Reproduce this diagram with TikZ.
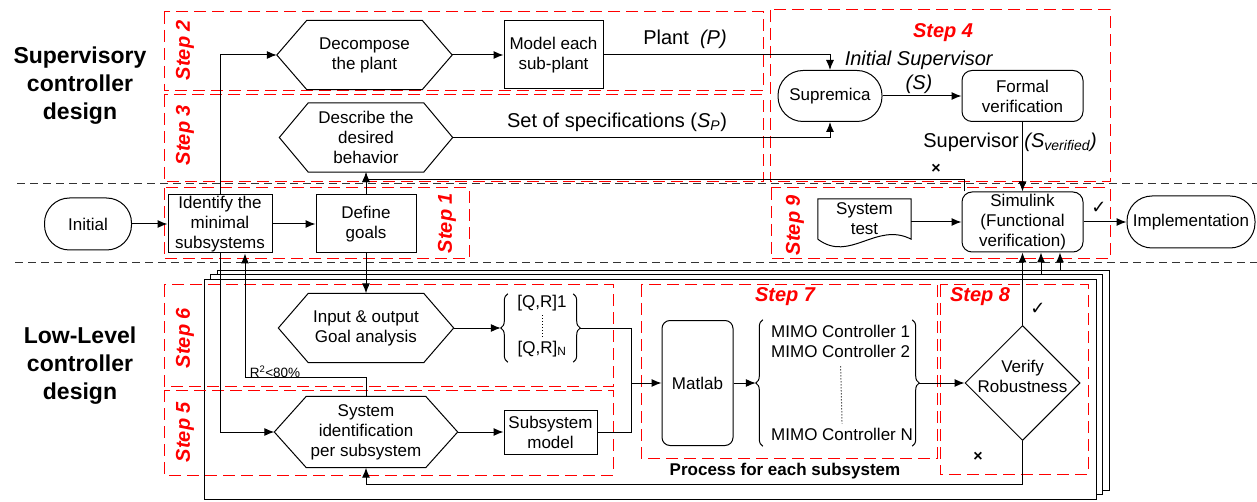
\documentclass[tikz,border=0pt]{standalone}
\usepackage{fontspec}
\setmainfont{Liberation Sans}
\newfontfamily\checkfont{DejaVu Sans}
\usepackage{tikz}
\usetikzlibrary{positioning, shapes, shapes.geometric, arrows.meta, decorations.pathreplacing, calc}
\definecolor{stepred}{rgb}{1, 0, 0}

\begin{document}
\begin{tikzpicture}[x=1pt, y=-1pt,
  every node/.style={font=\fontsize{17}{20}\selectfont, align=center, inner sep=0pt},
  arr/.style={-{Latex[length=10pt,width=8pt]}, line width=1pt},
  conn/.style={line width=1pt},
  rectbox/.style={draw, line width=1pt},
  rnd/.style={draw, line width=1pt, rounded corners=10pt},
  term/.style={draw, line width=1pt, rounded corners=25pt},
  hex/.style={minimum height=69pt},
  brace/.style={decorate, decoration={brace, amplitude=7pt}, line width=1pt},
  stepbox/.style={draw=stepred, line width=1pt, dash pattern=on 12pt off 6pt},
  steplabel/.style={text=stepred, font=\fontsize{20}{24}\selectfont\bfseries\itshape},
  divider/.style={black!80, line width=1pt, dash pattern=on 8pt off 5pt},
  edgelabel/.style={font=\fontsize{20}{24}\selectfont},
  sectitle/.style={font=\fontsize{23}{28}\selectfont\bfseries},
  okmark/.style={font=\fontsize{18}{20}\selectfont\checkfont},
  nomark/.style={font=\fontsize{16}{20}\selectfont\bfseries}]
\useasboundingbox (0,0) rectangle (1257,502);

\draw[divider] (17,184) -- (1257,184);
\draw[divider] (15,263) -- (1257,263);

\foreach \dx/\dy in {13/-9, 6.5/-4.5, 0/0}
  \draw[fill=white, line width=0.8pt] (204+\dx,279+\dy) rectangle ++(892,220);
\coordinate (t2) at (1041,274.5);
\coordinate (t3) at (1060,270);

\foreach \a/\b/\c/\d in {164/12/763/91, 164/95/763/182, 770/10/1110/182, 164/188/469/259, 771/188/1110/259, 164/285/613/386, 164/390/613/475, 641/285/937/458, 940/285/1088/474}
  \draw[stepbox] (\a,\b) rectangle (\c,\d);

\foreach \s/\x/\y in {2/185/50, 3/185/135, 1/447/223, 9/795/225, 6/185/338, 5/185/432}
  \node[steplabel, rotate=90] (step\s) at (\x,\y) {Step \s};
\node[steplabel] (step4) at (943,33) {Step 4};
\node[steplabel] (step7) at (785,297) {Step 7};
\node[steplabel] (step8) at (980,297) {Step 8};

\node[sectitle] (suptitle) at (80,86) {Supervisory\\controller\\design};
\node[sectitle] (lowtitle) at (80,366) {Low-Level\\controller\\design};

\node[term, minimum width=87pt, minimum height=52pt] (init) at (88,224) {Initial};
\node[rectbox, minimum width=104pt, minimum height=58pt] (id) at (220,224) {Identify the\\minimal\\subsystems};
\node[rectbox, minimum width=100pt, minimum height=58pt] (goal) at (366,224) {Define\\goals};
\node[hex, minimum width=175pt] (dec) at (364.5,55) {Decompose\\the plant};
\node[rectbox, minimum width=99pt, minimum height=68pt] (mod) at (553.5,55) {Model each\\sub-plant};
\node[hex, minimum width=173pt] (des) at (366,137.5) {Describe the\\desired\\behavior};
\node[term, minimum width=104pt, minimum height=51pt] (sup) at (830,96) {Supremica};
\node[rnd, minimum width=121pt, minimum height=51pt] (fv) at (1022.5,96) {Formal\\verification};
\node[rnd, minimum width=121pt, minimum height=60pt] (sim) at (1022.5,222) {Simulink\\(Functional\\verification)};
\node[minimum width=93pt, minimum height=40pt] (st) at (864.5,219) {System\\test};
\node[term, minimum width=128pt, minimum height=52pt] (imp) at (1191,222) {Implementation};

\node[hex, minimum width=175pt] (ioa) at (366,328) {Input \& output\\Goal analysis};
\node[minimum width=65pt, minimum height=68pt] (qr) at (540.5,328) {};
\node (qr1) at (542,303) {[Q,R]1};
\node (qrn) at (542,349) {[Q,R]\textsubscript{N}};
\node[hex, minimum width=183pt, minimum height=71pt] (sid) at (366,432) {System\\identification\\per subsystem};
\node[rectbox, minimum width=93pt, minimum height=44pt] (smod) at (550.5,432) {Subsystem\\model};
\node[rnd, rounded corners=8pt, minimum width=71pt, minimum height=125pt] (mat) at (697.5,383) {Matlab};
\node[minimum width=149pt, minimum height=126pt] (mimo) at (837.5,383) {};
\node[anchor=west] (m1) at (771,331) {MIMO Controller 1};
\node[anchor=west] (m2) at (771,351) {MIMO Controller 2};
\node[anchor=west] (mn) at (771,434) {MIMO Controller N};
\node[draw, diamond, line width=1pt, minimum width=115pt, minimum height=115pt] (ver) at (1022.5,383) {};
\node (vertext) at (1022.5,376) {Verify\\Robustness};
\coordinate (jn) at (631,383);

\foreach \n/\d in {dec/30pt, des/29pt, ioa/30pt, sid/32pt}
  \draw[conn] (\n.west) -- ([xshift=\d]\n.north west) -- ([xshift=-\d]\n.north east) -- (\n.east) -- ([xshift=-\d]\n.south east) -- ([xshift=\d]\n.south west) -- cycle;
\draw[conn] (st.south west) -- (st.north west) -- (st.north east) -- (st.south east) .. controls +(-35,-18) and +(32,24) .. (st.south west);

\draw[brace] (qr.south west) -- (qr.north west);
\draw[brace] (qr.north east) -- (qr.south east);
\draw[dotted, line width=1pt] ([yshift=-4pt]qr1.south) -- ([yshift=4pt]qrn.north);
\draw[brace] (mimo.south west) -- (mimo.north west);
\draw[brace] (mimo.north east) -- (mimo.south east);
\draw[dotted, line width=1pt] ([yshift=-9pt]m2.south) -- ([yshift=4pt]mn.north);

\node[edgelabel] (plantlbl) at (685,39) {Plant~~\textit{(P)}};
\node[edgelabel] (speclbl) at (617,122) {Set of specifications (\textit{S}\textsubscript{\textit{P}})};
\node[edgelabel] (islbl) at (919,72) {\textit{Initial Supervisor}\\\textit{(S)}};
\node[edgelabel] (svlbl) at (1010,142) {Supervisor \textit{(S\textsubscript{verified})}};
\node[font=\fontsize{13.5}{16}\selectfont] (rlbl) at (275,372) {R\textsuperscript{2}<80\%};
\node[font=\fontsize{17}{20}\selectfont\bfseries] (proc) at (785,471) {Process for each subsystem};
\node[okmark] (ok1) at (1099,208) {✓};
\node[okmark] (ok2) at (1038,309) {✓};
\node[nomark] (no1) at (936,169) {×};
\node[nomark] (no2) at (978,457) {×};

\draw[arr] (init) -- (id);
\draw[arr] (id) -- (goal);
\draw[arr] (id.north) |- (dec.west);
\draw[arr] (dec.east) -- (mod.west);
\draw[arr] (mod.east) -| (sup.north);
\draw[arr] (des.east) -| (sup.south);
\draw[arr] (sup) -- (fv);
\draw[arr] (fv) -- (sim);
\draw[arr] (goal.north) -- (des.south);
\draw[arr] ([xshift=3pt]sim.north west) -- ++(0,-12) -| (des.south);
\draw[arr] (st.east |- sim.west) -- (sim.west);
\draw[arr] (sim) -- (imp);
\draw[arr] (goal.south) -- (ioa.north);
\draw[arr] (id.south) |- (sid.west);
\draw[arr] (sid.north) -- ++(0,-19) -| ([xshift=25pt]id.south);
\draw[arr] (ioa.east) -- ([xshift=-7pt]qr.west);
\draw[conn] ([xshift=7pt]qr.east) -| (jn);
\draw[conn] (smod.east) -| (jn);
\draw[arr] (jn) -- (mat.west);
\draw[arr] (sid) -- (smod);
\draw[arr] (mat.east) -- ([xshift=-7pt]mimo.west);
\draw[arr] ([xshift=7pt]mimo.east) -- (ver.west);
\draw[arr] (ver.north) -- (sim.south);
\draw[arr] (t2) -- (t2 |- sim.south);
\draw[arr] (t3) -- (t3 |- sim.south);
\draw[arr] (ver.south) -- ++(0,43.5) -| (sid.south);

\end{tikzpicture}
\end{document}
